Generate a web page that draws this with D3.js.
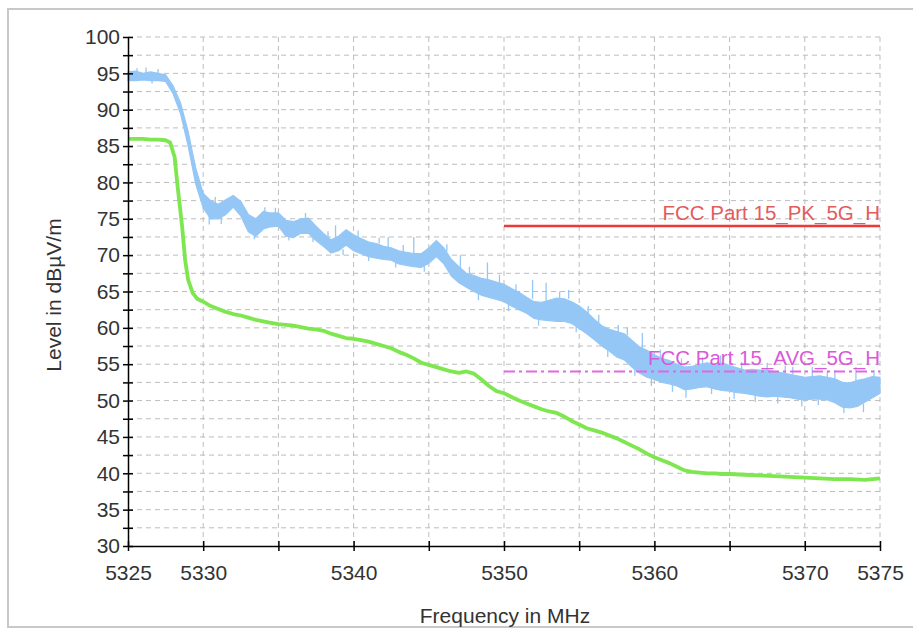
<!DOCTYPE html>
<html>
  <head>
    <meta charset="UTF-8">
    <script src="https://cdn.jsdelivr.net/npm/d3@7"></script>
    <style type="text/css">
      body { margin: 0; background: #fff; overflow: hidden; }
      svg { display: block; }
      text { font-family: "Liberation Sans", Arial, sans-serif; }
      .axis path, .axis line { stroke: #000; stroke-width: 1.5; }
      .axis text { font-size: 21px; fill: #333; }
      .grid line { stroke: #bdbdbd; stroke-width: 1; stroke-dasharray: 5,4; }
    </style>
  </head>
<body>
<script type="text/javascript">
var svgWidth = 913;
var svgHeight = 628;

// plot area edges in pixels
var plot = {left: 128, right: 880, top: 37, bottom: 546};

// peak trace (blue), read as upper / lower edge of the noise band every 0.5 MHz
var peakFreq = [5325, 5325.5, 5326, 5326.5, 5327, 5327.5, 5328, 5328.5, 5329, 5329.5,
  5330, 5330.5, 5331, 5331.5, 5332, 5332.5, 5333, 5333.5, 5334, 5334.5,
  5335, 5335.5, 5336, 5336.5, 5337, 5337.5, 5338, 5338.5, 5339, 5339.5,
  5340, 5340.5, 5341, 5341.5, 5342, 5342.5, 5343, 5343.5, 5344, 5344.5,
  5345, 5345.5, 5346, 5346.5, 5347, 5347.5, 5348, 5348.5, 5349, 5349.5,
  5350, 5350.5, 5351, 5351.5, 5352, 5352.5, 5353, 5353.5, 5354, 5354.5,
  5355, 5355.5, 5356, 5356.5, 5357, 5357.5, 5358, 5358.5, 5359, 5359.5,
  5360, 5360.5, 5361, 5361.5, 5362, 5362.5, 5363, 5363.5, 5364, 5364.5,
  5365, 5365.5, 5366, 5366.5, 5367, 5367.5, 5368, 5368.5, 5369, 5369.5,
  5370, 5370.5, 5371, 5371.5, 5372, 5372.5, 5373, 5373.5, 5374, 5374.5, 5375];

var peakHi = [95.2, 95.3, 95.0, 95.2, 95.0, 94.8, 93.3, 90.9, 87.0, 82.0,
  78.5, 77.5, 77.0, 77.6, 78.2, 77.4, 75.6, 75.0, 76.0, 75.8,
  75.8, 74.8, 74.6, 75.0, 75.1, 74.0, 73.0, 72.1, 72.6, 73.5,
  72.8, 72.3, 71.8, 71.6, 71.2, 71.0, 70.6, 70.4, 70.2, 70.2,
  71.0, 72.0, 71.0, 69.4, 68.4, 67.5, 67.2, 66.8, 66.6, 66.3,
  66.0, 65.4, 64.9, 64.2, 63.6, 63.5, 63.8, 64.1, 64.0, 63.6,
  63.0, 62.2, 61.2, 60.3, 59.8, 59.5, 59.2, 58.3, 57.4, 56.9,
  56.3, 55.8, 55.5, 55.0, 54.6, 54.7, 55.0, 55.2, 55.0, 55.2,
  54.8, 54.5, 54.2, 54.3, 54.2, 54.2, 54.0, 53.8, 53.6, 53.4,
  53.2, 53.3, 53.4, 53.2, 53.0, 52.5, 52.4, 52.8, 53.0, 53.3, 53.2];

var peakLo = [94.0, 94.0, 94.1, 94.0, 94.0, 93.9, 92.2, 89.4, 85.0, 79.8,
  76.5, 75.0, 75.0, 75.6, 76.6, 75.4, 73.2, 72.6, 73.6, 73.9,
  74.0, 72.6, 72.4, 73.0, 73.0, 72.0, 71.2, 70.3, 70.6, 71.4,
  70.6, 70.2, 69.8, 69.6, 69.4, 69.3, 68.8, 68.6, 68.4, 68.3,
  68.9, 69.8, 68.8, 67.1, 66.2, 65.6, 65.0, 64.5, 64.2, 63.9,
  63.6, 63.0, 62.5, 62.0, 61.3, 61.1, 61.0, 60.9, 60.9, 60.6,
  59.9, 59.2, 58.4, 57.5, 56.8, 56.0, 55.6, 54.6, 53.8, 53.2,
  52.9, 52.5, 52.3, 52.0, 51.5, 51.6, 51.8, 51.9, 51.6, 51.4,
  51.3, 51.1, 51.0, 50.8, 50.6, 50.5, 50.6, 50.5, 50.4, 50.2,
  50.1, 50.2, 50.2, 50.1, 49.7, 49.1, 49.0, 49.2, 49.8, 50.4, 51.0];

// single spikes sticking out of the peak band: [MHz, from dB, to dB]
var peakSpikes = [
  [5325.6, 95.0, 95.7], [5326.2, 95.0, 95.8], [5327.0, 95.0, 95.6], [5326.6, 94.1, 93.6],
  [5330.4, 75.4, 74.2], [5331.2, 75.2, 74.3], [5330.8, 77.2, 78.0], [5333.4, 73.0, 72.2],
  [5334.1, 75.7, 76.6], [5334.8, 75.8, 76.5], [5335.7, 72.7, 72.0], [5336.8, 75.0, 75.8],
  [5337.3, 72.6, 71.8], [5338.3, 72.5, 73.3], [5338.8, 72.5, 74.1], [5339.3, 70.8, 70.0],
  [5340.3, 72.5, 73.4], [5341.0, 70.0, 69.2], [5341.7, 71.6, 72.4], [5342.3, 71.0, 72.5],
  [5342.8, 69.1, 68.3], [5343.3, 70.5, 71.4], [5344.0, 70.2, 72.5], [5344.7, 68.5, 67.7],
  [5346.2, 70.5, 71.5], [5347.1, 68.2, 70.0], [5347.7, 67.4, 68.4], [5348.3, 64.8, 63.8],
  [5348.9, 66.6, 69.0], [5349.7, 66.2, 67.3], [5350.3, 63.3, 62.3], [5350.8, 65.1, 66.0],
  [5351.9, 64.0, 66.6], [5352.3, 61.2, 60.3], [5352.8, 63.5, 66.2], [5353.7, 64.1, 65.0],
  [5354.3, 64.0, 65.2], [5354.8, 60.3, 59.4], [5355.6, 62.0, 63.0], [5356.3, 60.7, 61.8],
  [5356.9, 57.0, 56.0], [5357.6, 59.4, 60.4], [5358.2, 59.0, 60.1], [5358.7, 54.4, 53.4],
  [5359.2, 57.2, 59.3], [5359.8, 53.0, 52.0], [5360.4, 55.9, 57.0], [5361.2, 52.2, 51.2],
  [5361.8, 54.8, 55.8], [5362.1, 51.5, 50.4], [5363.2, 55.0, 56.0], [5363.8, 51.8, 50.9],
  [5364.4, 55.2, 56.2], [5365.3, 51.2, 50.2], [5365.8, 54.3, 55.3], [5366.7, 50.8, 49.8],
  [5367.5, 54.2, 55.2], [5368.2, 50.6, 49.6], [5368.7, 53.8, 54.8], [5369.2, 53.6, 54.6],
  [5369.8, 50.2, 49.2], [5370.5, 53.3, 54.6], [5370.9, 50.2, 49.4], [5371.5, 53.2, 54.0],
  [5372.0, 53.0, 54.2], [5372.6, 49.1, 48.3], [5373.4, 52.6, 54.6], [5373.9, 49.6, 48.4],
  [5374.6, 53.3, 54.2]
];

// average trace (green)
var avgFreq = [5325, 5325.5, 5326, 5326.5, 5327, 5327.5, 5327.8, 5328.1, 5328.3, 5328.6,
  5328.8, 5329, 5329.3, 5329.6, 5330, 5330.5, 5331, 5331.5, 5332, 5332.5,
  5333, 5333.5, 5334, 5334.5, 5335, 5335.5, 5336, 5336.5, 5337, 5337.5,
  5338, 5338.5, 5339, 5339.5, 5340, 5340.5, 5341, 5341.5, 5342, 5342.5,
  5343, 5343.5, 5344, 5344.5, 5345, 5345.5, 5346, 5346.5, 5347, 5347.5,
  5348, 5348.5, 5349, 5349.5, 5350, 5350.5, 5351, 5351.5, 5352, 5352.5,
  5353, 5353.5, 5354, 5354.5, 5355, 5355.5, 5356, 5356.5, 5357, 5357.5,
  5358, 5358.5, 5359, 5359.5, 5360, 5360.5, 5361, 5361.5, 5362, 5362.5,
  5363, 5363.5, 5364, 5364.5, 5365, 5366, 5367, 5368, 5369, 5370,
  5371, 5372, 5373, 5374, 5375];

var avgLevel = [86.0, 86.0, 86.0, 85.9, 85.9, 85.8, 85.5, 83.5, 79.4, 73.9,
  69.3, 66.6, 64.8, 64.0, 63.6, 63.0, 62.6, 62.2, 61.9, 61.7,
  61.4, 61.1, 60.9, 60.7, 60.5, 60.4, 60.3, 60.1, 59.9, 59.8,
  59.6, 59.2, 58.9, 58.6, 58.5, 58.3, 58.1, 57.8, 57.5, 57.2,
  56.7, 56.3, 55.8, 55.2, 54.9, 54.6, 54.3, 54.0, 53.8, 54.0,
  53.7, 52.9, 52.0, 51.3, 51.0, 50.5, 50.0, 49.6, 49.2, 48.8,
  48.5, 48.3, 47.8, 47.2, 46.7, 46.2, 45.9, 45.6, 45.2, 44.8,
  44.3, 43.8, 43.3, 42.7, 42.2, 41.8, 41.4, 40.9, 40.4, 40.2,
  40.1, 40.0, 40.0, 39.9, 39.9, 39.8, 39.7, 39.6, 39.5, 39.4,
  39.3, 39.2, 39.2, 39.1, 39.3];

// limit lines
var limitNames = ["FCC Part 15_PK_5G_H", "FCC Part 15_AVG_5G_H"];
var limitLevels = [74, 54];
var limitStart = 5350;

// axis ticks
var xTicks = [5325, 5330, 5335, 5340, 5345, 5350, 5355, 5360, 5365, 5370, 5375];
var xLabels = [5325, 5330, 5340, 5350, 5360, 5370, 5375];
var yTicks = [30, 32.5, 35, 37.5, 40, 42.5, 45, 47.5, 50, 52.5, 55, 57.5, 60, 62.5,
  65, 67.5, 70, 72.5, 75, 77.5, 80, 82.5, 85, 87.5, 90, 92.5, 95, 97.5, 100];

var svg = d3.select("body").append("svg")
  .attr("width", svgWidth)
  .attr("height", svgHeight);

// outer frame (runs off the right edge)
svg.append("rect")
  .attr("x", 8).attr("y", 9)
  .attr("width", 960).attr("height", 618)
  .attr("fill", "none")
  .attr("stroke", "#c8c8c8")
  .attr("stroke-width", 2);

var x = d3.scaleLinear().domain([5325, 5375]).range([plot.left, plot.right]);
var y = d3.scaleLinear().domain([30, 100]).range([plot.bottom, plot.top]);

// grid
var grid = svg.append("g").attr("class", "grid");
grid.selectAll(".hg")
  .data(yTicks.filter(function(d) { return d > 30; }))
  .enter().append("line")
  .attr("x1", plot.left).attr("x2", plot.right)
  .attr("y1", function(d) { return y(d); })
  .attr("y2", function(d) { return y(d); });
grid.selectAll(".vg")
  .data(xTicks.filter(function(d) { return d > 5325; }))
  .enter().append("line")
  .attr("y1", plot.top).attr("y2", plot.bottom)
  .attr("x1", function(d) { return x(d); })
  .attr("x2", function(d) { return x(d); });

// peak band
var peakColor = "#95c7f6";
var peakRows = peakFreq.map(function(f, i) { return {f: f, hi: peakHi[i], lo: peakLo[i]}; });
var band = d3.area()
  .x(function(d) { return x(d.f); })
  .y0(function(d) { return y(d.lo); })
  .y1(function(d) { return y(d.hi); });
svg.append("path")
  .datum(peakRows)
  .attr("d", band)
  .attr("fill", peakColor)
  .attr("stroke", peakColor)
  .attr("stroke-width", 1.2);

svg.selectAll(".spike")
  .data(peakSpikes)
  .enter().append("line")
  .attr("x1", function(d) { return x(d[0]); })
  .attr("x2", function(d) { return x(d[0]); })
  .attr("y1", function(d) { return y(d[1]); })
  .attr("y2", function(d) { return y(d[2]); })
  .attr("stroke", peakColor)
  .attr("stroke-width", 1.3);

// average trace
var avgRows = avgFreq.map(function(f, i) { return {f: f, v: avgLevel[i]}; });
var line = d3.line()
  .x(function(d) { return x(d.f); })
  .y(function(d) { return y(d.v); });
svg.append("path")
  .datum(avgRows)
  .attr("d", line)
  .attr("fill", "none")
  .attr("stroke", "#7ee64e")
  .attr("stroke-width", 3.8)
  .attr("stroke-linejoin", "round");

// limit lines + names
var limitColors = ["#ec3a3a", "#e466e4"];
var limitText = ["#e25c5c", "#d95ad9"];
var limitDash = [null, "11,4,3,4"];
var limitWidth = [2.5, 2];
limitLevels.forEach(function(v, i) {
  svg.append("line")
    .attr("x1", x(limitStart)).attr("x2", x(5375))
    .attr("y1", y(v)).attr("y2", y(v))
    .attr("stroke", limitColors[i])
    .attr("stroke-width", limitWidth[i])
    .attr("stroke-dasharray", limitDash[i]);
  svg.append("text")
    .attr("x", x(5375))
    .attr("y", y(v) - 6)
    .attr("text-anchor", "end")
    .attr("font-size", "20.5px")
    .attr("fill", limitText[i])
    .text(limitNames[i]);
});

// axes
var yAxis = d3.axisLeft(y)
  .tickValues(yTicks)
  .tickSize(5)
  .tickSizeOuter(0)
  .tickPadding(3)
  .tickFormat(function(d) { return d % 5 === 0 ? d : ""; });
svg.append("g").attr("class", "axis")
  .attr("transform", "translate(" + plot.left + ",0)")
  .call(yAxis);
svg.append("g").attr("class", "axis")
  .attr("transform", "translate(" + plot.left + ",0)")
  .call(d3.axisRight(y).tickValues(yTicks).tickSize(5).tickSizeOuter(0).tickFormat(""))
  .select(".domain").remove();

var xAxis = d3.axisBottom(x)
  .tickValues(xTicks)
  .tickSize(5)
  .tickSizeOuter(0)
  .tickPadding(14)
  .tickFormat(function(d) { return xLabels.indexOf(d) >= 0 ? d : ""; });
svg.append("g").attr("class", "axis")
  .attr("transform", "translate(0," + plot.bottom + ")")
  .call(xAxis);
svg.append("g").attr("class", "axis")
  .attr("transform", "translate(0," + plot.bottom + ")")
  .call(d3.axisTop(x).tickValues(xTicks).tickSize(5).tickSizeOuter(0).tickFormat(""))
  .select(".domain").remove();

// axis titles
svg.append("text")
  .attr("x", 505).attr("y", 623)
  .attr("text-anchor", "middle")
  .attr("font-size", "21px")
  .attr("fill", "#333")
  .text("Frequency in MHz");

svg.append("text")
  .attr("transform", "translate(61,295) rotate(-90)")
  .attr("text-anchor", "middle")
  .attr("font-size", "21px")
  .attr("fill", "#333")
  .text("Level in dBµV/m");
</script>
</body>
</html>
